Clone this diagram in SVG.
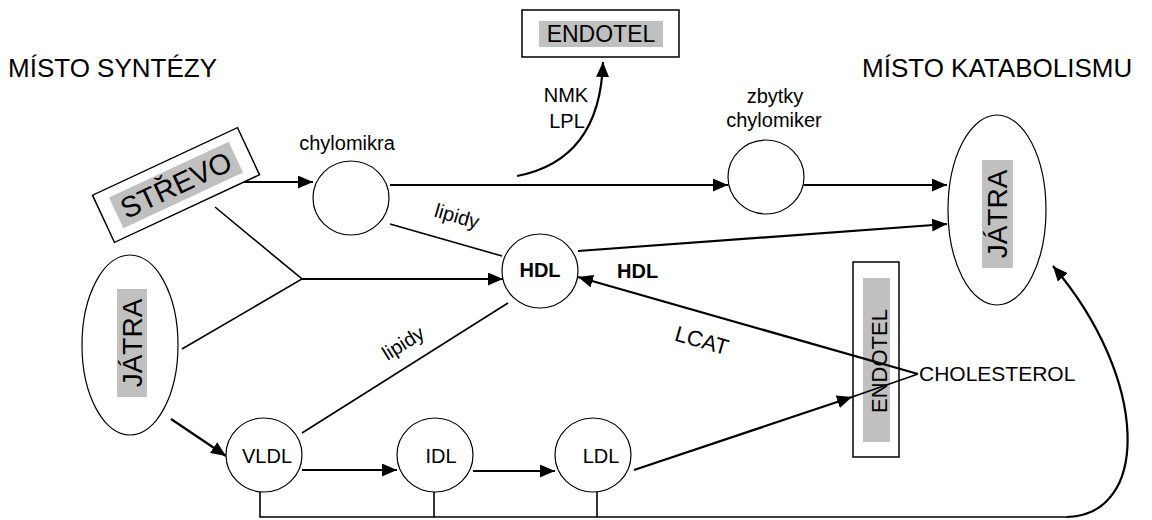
<svg xmlns="http://www.w3.org/2000/svg" width="1152" height="520" viewBox="0 0 1152 520">
  <style>
    text { font-family: "Liberation Sans", Arial, sans-serif; fill: #000; }
    .title { font-size: 26px; }
    .lbl { font-size: 20px; }
    .mid { text-anchor: middle; }
    .node { fill: #fff; stroke: #000; stroke-width: 1.2; }
    .box { fill: #fff; stroke: #000; stroke-width: 1.5; }
    .hl { fill: #c0c0c0; }
    .arrow { fill: none; stroke: #000; stroke-width: 2.2; marker-end: url(#head); }
    .line { fill: none; stroke: #000; stroke-width: 1.6; }
  </style>
  <defs>
    <marker id="head" markerUnits="userSpaceOnUse" markerWidth="16" markerHeight="14" refX="15" refY="6.5" orient="auto">
      <path d="M0,0 L15,6.5 L0,13 z" fill="#000"/>
    </marker>
  </defs>

  <rect width="1152" height="520" fill="#fff"/>

  <!-- section headings -->
  <text class="title" x="8" y="77">MÍSTO SYNTÉZY</text>
  <text class="title" x="862" y="77">MÍSTO KATABOLISMU</text>

  <!-- endothelium strip; the cholesterol lines cross over it -->
  <g id="endotel-side">
    <rect class="box" x="853" y="262" width="46" height="195"/>
    <rect class="hl" x="863" y="278" width="27" height="164"/>
    <text class="mid" style="font-size:22px" transform="translate(887,361) rotate(-90)">ENDOTEL</text>
  </g>

  <!-- connectors -->
  <g id="connectors">
    <!-- intestine to chylomicrons -->
    <path class="arrow" d="M243,182 L313,182"/>
    <!-- chylomicrons to remnants -->
    <path class="arrow" d="M390,185 L728,185"/>
    <!-- NMK / LPL to endothelium -->
    <path class="arrow" d="M517,176 Q600,160 603,62"/>
    <!-- remnants to liver -->
    <path class="arrow" d="M804,185 L947,185"/>
    <!-- HDL to liver -->
    <path class="arrow" d="M578,251 L947,224"/>
    <!-- lipids from chylomicrons to HDL -->
    <path class="line" d="M390,224 L502,256"/>
    <!-- intestine + liver merge into HDL -->
    <path class="line" d="M215,207 L302,279 L182,349"/>
    <path class="arrow" d="M302,279 L503,279"/>
    <!-- lipids from VLDL to HDL -->
    <path class="line" d="M302,433 L508,303"/>
    <!-- LCAT: cholesterol back to HDL -->
    <path class="arrow" d="M918,374 L578,277"/>
    <!-- liver to VLDL -->
    <path class="arrow" d="M171,419 L226,456"/>
    <!-- VLDL to IDL to LDL -->
    <path class="arrow" d="M302,470 L397,470"/>
    <path class="arrow" d="M473,471 L555,471"/>
    <!-- LDL to endothelium -->
    <path class="arrow" d="M634,470 L852,397"/>
    <path class="line" d="M852,397 L918,374"/>
    <!-- return to liver -->
    <path class="line" d="M260,492 L260,517 L1067,517"/>
    <path class="line" d="M434,492 L434,517"/>
    <path class="line" d="M597,492 L597,517"/>
    <path class="arrow" d="M1067,517 C1150,515 1150,380 1053,266"/>
  </g>

  <!-- connector labels -->
  <text class="lbl mid" x="566" y="102">NMK</text>
  <text class="lbl mid" x="567" y="128">LPL</text>
  <text class="lbl mid" transform="translate(457,216) rotate(16)" y="7">lipidy</text>
  <text class="lbl mid" transform="translate(403,343) rotate(-32)" y="7">lipidy</text>
  <text class="mid" style="font-size:22px" transform="translate(702,340) rotate(16)" y="8">LCAT</text>
  <text class="lbl" style="font-weight:bold" x="617" y="278">HDL</text>
  <text style="font-size:21px" x="919" y="381">CHOLESTEROL</text>

  <g id="endotel-top">
    <rect class="box" x="522" y="10" width="157" height="47"/>
    <rect class="hl" x="539" y="21" width="124" height="26"/>
    <text class="mid" style="font-size:23px" x="601" y="42">ENDOTEL</text>
  </g>

  <g id="strevo" transform="translate(176,185) rotate(-25)">
    <rect class="box" x="-80" y="-26" width="160" height="52"/>
    <rect class="hl" x="-66" y="-17" width="132" height="34"/>
    <text class="mid" style="font-size:29px" x="0" y="10">STŘEVO</text>
  </g>

  <g id="jatra-left">
    <ellipse class="node" cx="130" cy="345" rx="48" ry="90"/>
    <rect class="hl" x="117" y="289" width="30" height="108"/>
    <text class="mid" style="font-size:28px" transform="translate(142,343) rotate(-90)">JÁTRA</text>
  </g>

  <g id="jatra-right">
    <ellipse class="node" cx="997" cy="210" rx="49" ry="95"/>
    <rect class="hl" x="982" y="160" width="31" height="108"/>
    <text class="mid" style="font-size:28px" transform="translate(1007,214) rotate(-90)">JÁTRA</text>
  </g>

  <g id="chylomikra">
    <ellipse class="node" cx="351" cy="198" rx="38" ry="37"/>
    <text class="lbl mid" x="347" y="150">chylomikra</text>
  </g>

  <g id="zbytky">
    <ellipse class="node" cx="766" cy="177" rx="38" ry="37"/>
    <text class="lbl mid" x="775" y="103">zbytky</text>
    <text class="lbl mid" x="774" y="127">chylomiker</text>
  </g>

  <g id="hdl">
    <ellipse class="node" cx="540" cy="271" rx="38" ry="37"/>
    <text class="lbl mid" style="font-weight:bold" x="540" y="277">HDL</text>
  </g>

  <g id="vldl">
    <ellipse class="node" cx="264" cy="455" rx="38" ry="37"/>
    <text class="lbl mid" x="267" y="463">VLDL</text>
  </g>

  <g id="idl">
    <ellipse class="node" cx="435" cy="455" rx="38" ry="37"/>
    <text class="lbl mid" x="441" y="463">IDL</text>
  </g>

  <g id="ldl">
    <ellipse class="node" cx="593" cy="455" rx="38" ry="37"/>
    <text class="lbl mid" x="601" y="463">LDL</text>
  </g>
</svg>
